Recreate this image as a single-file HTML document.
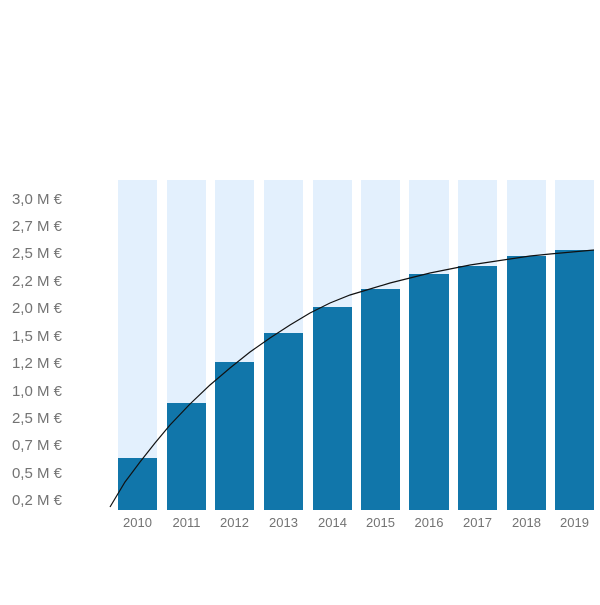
<!DOCTYPE html>
<html><head><style>
body{margin:0;background:#fff}
svg text{font-family:"Liberation Sans",sans-serif;fill:#737373}
</style></head><body>
<svg width="600" height="600" viewBox="0 0 600 600" xmlns="http://www.w3.org/2000/svg">
<g fill="#e3f0fd">
<rect x="118" y="180" width="39" height="330"/>
<rect x="167" y="180" width="39" height="330"/>
<rect x="215" y="180" width="39" height="330"/>
<rect x="264" y="180" width="39" height="330"/>
<rect x="313" y="180" width="39" height="330"/>
<rect x="361" y="180" width="39" height="330"/>
<rect x="409" y="180" width="40" height="330"/>
<rect x="458" y="180" width="39" height="330"/>
<rect x="507" y="180" width="39" height="330"/>
<rect x="555" y="180" width="39" height="330"/>
</g>
<g fill="#1176aa">
<rect x="118" y="458" width="39" height="52"/>
<rect x="167" y="403" width="39" height="107"/>
<rect x="215" y="362" width="39" height="148"/>
<rect x="264" y="333" width="39" height="177"/>
<rect x="313" y="307" width="39" height="203"/>
<rect x="361" y="289" width="39" height="221"/>
<rect x="409" y="274" width="40" height="236"/>
<rect x="458" y="266" width="39" height="244"/>
<rect x="507" y="256" width="39" height="254"/>
<rect x="555" y="250" width="39" height="260"/>
</g>
<polyline fill="none" stroke="#111" stroke-width="1.2" points="110,507 125,482 140,462 155,443 170,425 190,404 210,385 230,368 250,352 270,338 290,325 310,313 330,303 350,295 370,289 390,283 410,278 430,273 450,269 470,265 490,262 510,259 530,256 550,254 572,252 594,250"/>
<g font-size="15" text-anchor="end">
<text x="62" y="204">3,0 M €</text>
<text x="62" y="231">2,7 M €</text>
<text x="62" y="258">2,5 M €</text>
<text x="62" y="286">2,2 M €</text>
<text x="62" y="313">2,0 M €</text>
<text x="62" y="341">1,5 M €</text>
<text x="62" y="368">1,2 M €</text>
<text x="62" y="396">1,0 M €</text>
<text x="62" y="423">2,5 M €</text>
<text x="62" y="450">0,7 M €</text>
<text x="62" y="478">0,5 M €</text>
<text x="62" y="505">0,2 M €</text>
</g>
<g font-size="13" text-anchor="middle">
<text x="137.5" y="527">2010</text>
<text x="186.5" y="527">2011</text>
<text x="234.5" y="527">2012</text>
<text x="283.5" y="527">2013</text>
<text x="332.5" y="527">2014</text>
<text x="380.5" y="527">2015</text>
<text x="429" y="527">2016</text>
<text x="477.5" y="527">2017</text>
<text x="526.5" y="527">2018</text>
<text x="574.5" y="527">2019</text>
</g>
</svg>
</body></html>
